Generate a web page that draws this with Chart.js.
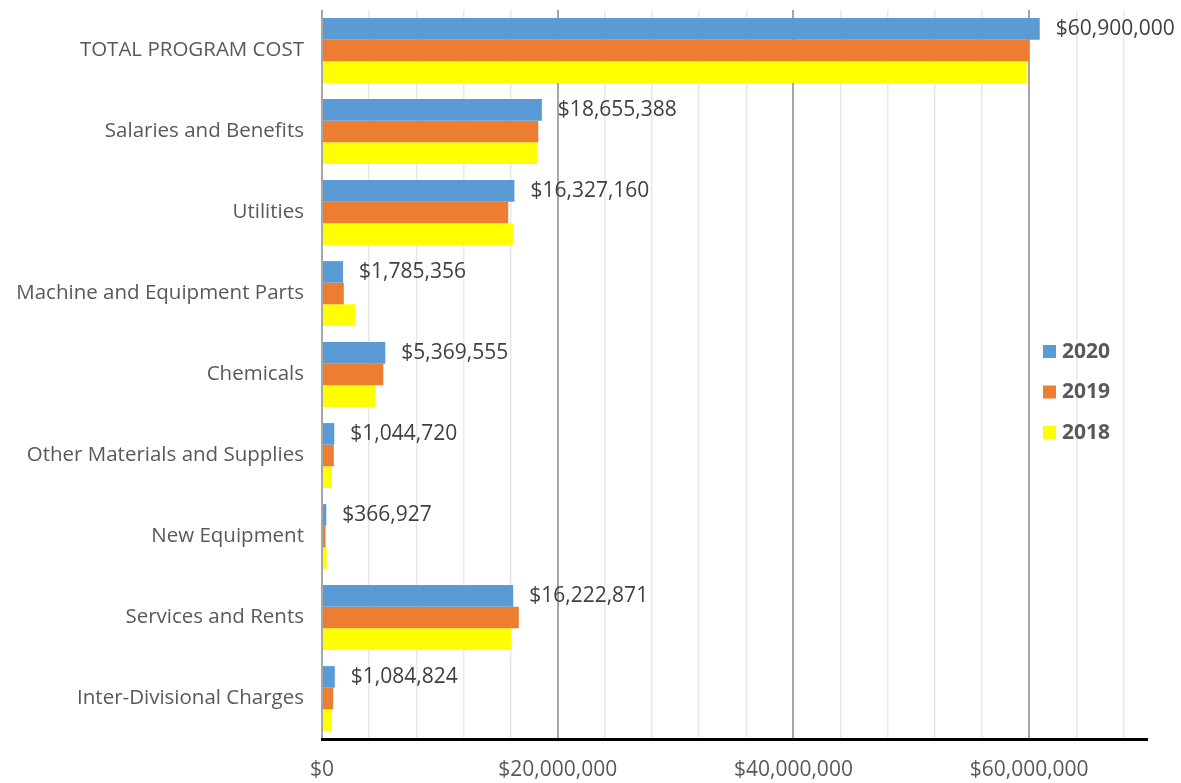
<!DOCTYPE html>
<html>
<head>
<meta charset="utf-8">
<script src="https://cdn.jsdelivr.net/npm/chart.js@4.4.1/dist/chart.umd.min.js"></script>
<style>
  html, body { margin: 0; padding: 0; background: #fff; }
  #wrap { width: 1181px; height: 783px; }
</style>
</head>
<body>
<div id="wrap"><canvas id="c" width="1181" height="783"></canvas></div>
<script>
// Budget categories and yearly costs
const categories = [
  'TOTAL PROGRAM COST',
  'Salaries and Benefits',
  'Utilities',
  'Machine and Equipment Parts',
  'Chemicals',
  'Other Materials and Supplies',
  'New Equipment',
  'Services and Rents',
  'Inter-Divisional Charges'
];
const cost2020 = [60900000, 18655388, 16327160, 1785356, 5369555, 1044720, 366927, 16222871, 1084824];
const cost2019 = [60000000, 18350000, 15800000, 1850000, 5200000, 1000000, 300000, 16700000, 950000];
const cost2018 = [59800000, 18270000, 16200000, 2800000, 4500000, 850000, 400000, 16050000, 850000];
const seriesLabels = ['2020', '2019', '2018'];
const seriesColors = ['#5b9bd5', '#ed7d31', '#ffff00'];
// gridline positions (minor every 4M) and labelled ticks (every 20M)
const xTicks = [0, 4e6, 8e6, 12e6, 16e6, 20e6, 24e6, 28e6, 32e6, 36e6, 40e6,
                44e6, 48e6, 52e6, 56e6, 60e6, 64e6, 68e6];
const xLabelled = [0, 20e6, 40e6, 60e6];
const xMax = 70000000;

const FONT = "'Open Sans', 'Noto Sans', sans-serif";

function money(v) {
  return '$' + Math.round(v).toLocaleString('en-US');
}

// Value labels on the 2020 bars only
const valueLabels = {
  id: 'valueLabels',
  afterDatasetsDraw(chart) {
    const ctx = chart.ctx;
    const meta = chart.getDatasetMeta(0);
    ctx.save();
    ctx.font = '21px ' + FONT;
    ctx.fillStyle = '#404040';
    ctx.textAlign = 'left';
    ctx.textBaseline = 'middle';
    meta.data.forEach((bar, i) => {
      ctx.fillText(money(cost2020[i]), bar.x + 16, bar.y);
    });
    ctx.restore();
  }
};

// Legend drawn over the plot on the right side
const sideLegend = {
  id: 'sideLegend',
  afterDraw(chart) {
    const ctx = chart.ctx;
    ctx.save();
    ctx.font = 'bold 21px ' + FONT;
    ctx.textBaseline = 'middle';
    ctx.textAlign = 'left';
    seriesLabels.forEach((lbl, i) => {
      const y = 352 + i * 40.5;
      ctx.fillStyle = seriesColors[i];
      ctx.fillRect(1043, y - 7, 13, 13);
      ctx.fillStyle = '#595959';
      ctx.fillText(lbl, 1062, y);
    });
    ctx.restore();
  }
};

const isMajor = (v) => xLabelled.includes(v);

new Chart(document.getElementById('c'), {
  type: 'bar',
  data: {
    labels: categories,
    datasets: [
      { label: seriesLabels[0], data: cost2020, backgroundColor: seriesColors[0] },
      { label: seriesLabels[1], data: cost2019, backgroundColor: seriesColors[1] },
      { label: seriesLabels[2], data: cost2018, backgroundColor: seriesColors[2] }
    ]
  },
  options: {
    indexAxis: 'y',
    responsive: false,
    animation: false,
    layout: { padding: { top: 10, right: 34, left: 0, bottom: 0 } },
    datasets: { bar: { categoryPercentage: 0.8, barPercentage: 1.0 } },
    plugins: {
      legend: { display: false },
      tooltip: { enabled: false }
    },
    scales: {
      x: {
        min: 0,
        max: xMax,
        afterBuildTicks: (s) => { s.ticks = xTicks.map((v) => ({ value: v })); },
        ticks: {
          autoSkip: false,
          maxRotation: 0,
          padding: 18,
          color: '#595959',
          font: { family: FONT, size: 21 },
          callback: (v) => (isMajor(v) ? money(v) : '')
        },
        grid: {
          drawTicks: false,
          color: (c) => (c.tick && isMajor(c.tick.value) ? '#a6a6a6' : '#e8e8e8'),
          lineWidth: (c) => (c.tick && isMajor(c.tick.value) ? 2 : 1.5)
        },
        border: { display: true, color: '#000000', width: 3 },
        afterFit: (s) => { s.height = 44; }
      },
      y: {
        ticks: {
          padding: 18,
          color: '#595959',
          font: { family: FONT, size: 20.5 }
        },
        grid: { display: false, drawTicks: false },
        border: { display: false },
        afterFit: (s) => {
          s.width = 322;
          s.paddingTop = 0;
          s.paddingBottom = 0;
        }
      }
    }
  },
  plugins: [valueLabels, sideLegend]
});
</script>
</body>
</html>
